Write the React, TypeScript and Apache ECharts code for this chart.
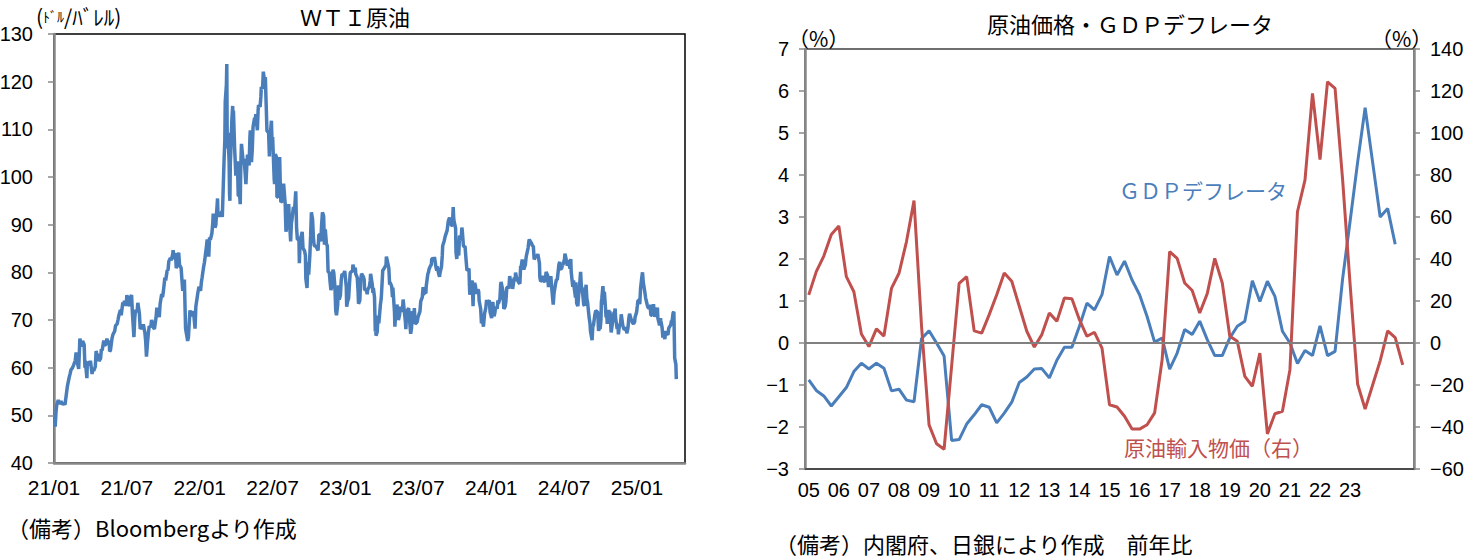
import React, { useEffect, useRef } from "react";
import * as echarts from "echarts";

// ---------- WTI crude (US$/barrel), [MM-DD, close] per year ----------
const wti2021: [string, number][] = [
  ["01-04", 47.6], ["01-06", 50.6], ["01-08", 52.2], ["01-12", 53.2], ["01-15", 52.4], ["01-19", 52.98], ["01-22", 52.3], ["01-26", 52.6], ["01-29", 52.2],
  ["02-02", 54.8], ["02-04", 56.2], ["02-08", 57.97], ["02-10", 58.7], ["02-12", 59.5], ["02-16", 60.05], ["02-18", 60.5], ["02-22", 61.5], ["02-24", 63.2], ["02-26", 61.5],
  ["03-02", 59.75], ["03-04", 63.8], ["03-05", 66.1], ["03-08", 65.05], ["03-10", 64.4], ["03-12", 65.6], ["03-16", 64.8], ["03-18", 60.0], ["03-19", 61.4], ["03-23", 57.8], ["03-24", 61.2], ["03-26", 61.0], ["03-30", 60.55],
  ["04-01", 61.45], ["04-05", 58.65], ["04-07", 59.8], ["04-09", 59.3], ["04-13", 60.2], ["04-15", 63.5], ["04-16", 63.1], ["04-20", 62.4], ["04-22", 61.4], ["04-26", 61.9], ["04-28", 63.9], ["04-30", 63.6],
  ["05-04", 65.7], ["05-06", 64.7], ["05-10", 64.9], ["05-12", 66.1], ["05-14", 65.4], ["05-18", 65.5], ["05-19", 63.4], ["05-21", 63.6], ["05-25", 66.1], ["05-27", 66.85],
  ["06-01", 67.7], ["06-03", 68.8], ["06-07", 69.2], ["06-09", 70.0], ["06-11", 70.9], ["06-15", 72.1], ["06-17", 71.0], ["06-21", 73.7], ["06-23", 73.1], ["06-25", 74.05], ["06-29", 72.98],
  ["07-01", 75.2], ["07-06", 73.4], ["07-08", 72.9], ["07-09", 74.6], ["07-13", 75.25], ["07-15", 71.65], ["07-19", 66.4], ["07-21", 70.3], ["07-23", 72.1], ["07-27", 71.65], ["07-29", 73.6],
  ["08-02", 71.3], ["08-04", 68.15], ["08-06", 68.3], ["08-10", 68.3], ["08-12", 69.1], ["08-16", 67.3], ["08-18", 65.5], ["08-20", 62.3], ["08-23", 65.6], ["08-25", 67.4], ["08-27", 68.7], ["08-31", 68.5],
  ["09-02", 69.99], ["09-07", 68.35], ["09-09", 68.1], ["09-13", 70.45], ["09-15", 72.6], ["09-17", 71.97], ["09-21", 70.6], ["09-23", 73.3], ["09-27", 75.45], ["09-29", 74.8],
  ["10-01", 75.9], ["10-05", 78.9], ["10-07", 78.3], ["10-11", 80.5], ["10-13", 80.4], ["10-15", 82.3], ["10-19", 83.0], ["10-21", 82.5], ["10-25", 83.8], ["10-26", 84.65], ["10-28", 82.8],
  ["11-01", 84.05], ["11-03", 80.9], ["11-05", 81.3], ["11-09", 84.15], ["11-11", 81.6], ["11-15", 80.9], ["11-17", 78.4], ["11-19", 76.1], ["11-23", 78.5], ["11-26", 68.15], ["11-30", 66.2],
  ["12-01", 65.6], ["12-03", 66.3], ["12-07", 72.05], ["12-09", 70.9], ["12-13", 71.3], ["12-15", 71.9], ["12-17", 70.9], ["12-20", 68.2], ["12-22", 72.8], ["12-27", 75.6], ["12-30", 76.99],
];
const wti2022: [string, number][] = [
  ["01-03", 76.1], ["01-05", 77.85], ["01-07", 78.9], ["01-11", 81.2], ["01-13", 82.1], ["01-18", 85.4], ["01-20", 86.9], ["01-24", 83.3], ["01-26", 87.35], ["01-28", 86.8],
  ["02-01", 88.2], ["02-03", 90.3], ["02-04", 92.3], ["02-08", 89.4], ["02-10", 89.9], ["02-14", 95.5], ["02-15", 92.1], ["02-17", 91.8], ["02-22", 92.35], ["02-24", 92.8], ["02-25", 91.6],
  ["03-01", 103.4], ["03-03", 107.7], ["03-04", 115.7], ["03-07", 119.4], ["03-08", 123.7], ["03-09", 108.7], ["03-10", 106.0], ["03-11", 109.3], ["03-14", 103.0], ["03-15", 96.4], ["03-16", 95.0], ["03-17", 102.98], ["03-18", 104.7], ["03-21", 112.1], ["03-23", 114.9], ["03-24", 112.3], ["03-25", 113.9], ["03-28", 105.96], ["03-29", 104.2], ["03-31", 100.3],
  ["04-04", 103.3], ["04-06", 96.2], ["04-07", 96.0], ["04-08", 98.3], ["04-11", 94.3], ["04-12", 100.6], ["04-13", 104.25], ["04-14", 106.95], ["04-19", 102.6], ["04-21", 103.8], ["04-22", 102.1], ["04-25", 98.5], ["04-27", 102.0], ["04-29", 104.7],
  ["05-03", 102.4], ["05-05", 108.3], ["05-06", 109.8], ["05-09", 103.1], ["05-11", 105.7], ["05-13", 110.5], ["05-17", 112.4], ["05-19", 112.2], ["05-20", 113.2], ["05-24", 109.8], ["05-26", 114.1], ["05-27", 115.1],
  ["05-31", 114.7], ["06-02", 116.9], ["06-03", 118.9], ["06-06", 118.5], ["06-08", 122.1], ["06-10", 120.7], ["06-13", 120.9], ["06-15", 115.3], ["06-17", 109.6], ["06-21", 109.5], ["06-23", 104.3], ["06-24", 107.6], ["06-28", 111.8], ["06-30", 105.8],
  ["07-01", 108.4], ["07-05", 99.5], ["07-06", 98.5], ["07-08", 104.8], ["07-11", 104.1], ["07-12", 95.8], ["07-14", 95.8], ["07-15", 97.6], ["07-19", 104.2], ["07-21", 96.35], ["07-22", 94.7], ["07-26", 94.98], ["07-28", 96.4], ["07-29", 98.6],
  ["08-02", 94.4], ["08-04", 88.5], ["08-05", 89.0], ["08-09", 90.5], ["08-11", 94.3], ["08-12", 92.1], ["08-16", 86.5], ["08-18", 90.5], ["08-19", 90.8], ["08-23", 93.7], ["08-25", 92.5], ["08-26", 93.1], ["08-29", 97.0], ["08-31", 89.55],
  ["09-02", 86.9], ["09-06", 86.9], ["09-07", 81.9], ["09-09", 86.8], ["09-12", 87.8], ["09-14", 88.5], ["09-16", 85.1], ["09-20", 84.45], ["09-22", 83.5], ["09-23", 78.7], ["09-26", 76.7], ["09-28", 82.15], ["09-30", 79.5],
  ["10-03", 83.6], ["10-05", 87.8], ["10-07", 92.6], ["10-10", 91.1], ["10-12", 87.3], ["10-14", 85.6], ["10-17", 85.5], ["10-19", 85.55], ["10-21", 85.05], ["10-24", 84.6], ["10-26", 87.9], ["10-28", 87.9],
  ["10-31", 86.5], ["11-02", 90.0], ["11-04", 92.6], ["11-07", 91.8], ["11-09", 85.8], ["11-11", 89.0], ["11-14", 85.9], ["11-16", 85.6], ["11-18", 80.1], ["11-21", 80.0], ["11-23", 77.9], ["11-25", 76.3], ["11-28", 77.2], ["11-30", 80.55],
  ["12-02", 79.98], ["12-05", 76.9], ["12-07", 72.0], ["12-09", 71.0], ["12-12", 73.2], ["12-14", 77.3], ["12-16", 74.3], ["12-19", 75.2], ["12-21", 78.3], ["12-23", 79.6], ["12-27", 79.5], ["12-30", 80.3],
];
const wti2023: [string, number][] = [
  ["01-03", 76.9], ["01-04", 72.8], ["01-06", 73.8], ["01-09", 74.6], ["01-11", 77.4], ["01-13", 79.9], ["01-17", 80.2], ["01-19", 80.3], ["01-20", 81.6], ["01-24", 80.1], ["01-26", 81.0], ["01-27", 79.7],
  ["01-31", 78.9], ["02-02", 75.9], ["02-03", 73.4], ["02-06", 74.1], ["02-08", 78.5], ["02-10", 79.7], ["02-14", 79.1], ["02-16", 78.5], ["02-17", 76.3], ["02-21", 76.4], ["02-23", 75.4], ["02-24", 76.3], ["02-28", 77.05],
  ["03-02", 78.2], ["03-03", 79.7], ["03-07", 77.6], ["03-09", 75.7], ["03-10", 76.7], ["03-13", 74.8], ["03-15", 67.6], ["03-16", 68.35], ["03-17", 66.7], ["03-20", 67.6], ["03-22", 70.9], ["03-24", 69.3], ["03-28", 73.2], ["03-30", 74.4], ["03-31", 75.7],
  ["04-03", 80.4], ["04-05", 80.6], ["04-06", 80.7], ["04-11", 81.5], ["04-12", 83.3], ["04-14", 82.5], ["04-18", 80.9], ["04-20", 77.4], ["04-21", 77.9], ["04-25", 77.1], ["04-27", 74.8], ["04-28", 76.8],
  ["05-02", 71.7], ["05-03", 68.6], ["05-05", 71.3], ["05-08", 73.2], ["05-10", 72.6], ["05-12", 70.0], ["05-15", 71.1], ["05-17", 72.8], ["05-19", 71.7], ["05-23", 72.9], ["05-24", 74.3], ["05-26", 72.7], ["05-30", 69.5], ["05-31", 68.1],
  ["06-02", 71.7], ["06-05", 72.2], ["06-07", 72.5], ["06-09", 70.2], ["06-12", 67.1], ["06-14", 68.3], ["06-16", 71.8], ["06-20", 71.2], ["06-21", 72.5], ["06-23", 69.2], ["06-26", 69.4], ["06-28", 69.6], ["06-30", 70.6],
  ["07-05", 71.8], ["07-07", 73.9], ["07-11", 74.8], ["07-13", 76.9], ["07-14", 75.4], ["07-18", 75.75], ["07-20", 75.6], ["07-21", 77.1], ["07-25", 79.6], ["07-27", 80.1], ["07-28", 80.6],
  ["08-01", 81.4], ["08-03", 81.55], ["08-04", 82.8], ["08-08", 82.9], ["08-10", 82.8], ["08-11", 83.2], ["08-15", 80.99], ["08-17", 80.4], ["08-18", 81.25], ["08-22", 79.6], ["08-24", 79.05], ["08-25", 79.8], ["08-29", 81.2], ["08-31", 83.6],
  ["09-01", 85.55], ["09-05", 86.7], ["09-07", 87.5], ["09-08", 87.5], ["09-12", 88.8], ["09-14", 90.2], ["09-15", 90.8], ["09-18", 91.5], ["09-20", 90.3], ["09-22", 90.0], ["09-25", 89.7], ["09-27", 93.7], ["09-28", 91.7], ["09-29", 90.8],
  ["10-03", 89.2], ["10-04", 84.2], ["10-06", 82.8], ["10-09", 86.4], ["10-11", 83.5], ["10-13", 87.7], ["10-17", 86.7], ["10-18", 88.3], ["10-19", 89.4], ["10-20", 88.75], ["10-23", 85.5], ["10-25", 85.4], ["10-27", 85.5],
  ["10-30", 82.3], ["11-01", 80.4], ["11-03", 80.5], ["11-06", 80.8], ["11-07", 77.4], ["11-08", 75.3], ["11-10", 77.2], ["11-14", 78.3], ["11-16", 72.9], ["11-17", 75.9], ["11-20", 77.8], ["11-22", 77.1], ["11-24", 75.5], ["11-28", 76.4], ["11-30", 75.96],
  ["12-01", 74.1], ["12-05", 72.3], ["12-07", 69.3], ["12-08", 71.2], ["12-12", 68.6], ["12-13", 69.5], ["12-15", 71.4], ["12-18", 72.5], ["12-20", 74.2], ["12-22", 73.6], ["12-27", 74.1], ["12-29", 71.65],
];
const wti2024: [string, number][] = [
  ["01-02", 70.4], ["01-04", 72.2], ["01-05", 73.8], ["01-08", 70.8], ["01-10", 71.4], ["01-12", 72.7], ["01-16", 72.4], ["01-18", 74.1], ["01-19", 73.4], ["01-23", 74.4], ["01-25", 77.4], ["01-26", 78.0], ["01-29", 76.8], ["01-31", 75.85],
  ["02-02", 72.3], ["02-05", 72.8], ["02-07", 73.9], ["02-09", 76.8], ["02-12", 76.9], ["02-14", 76.6], ["02-16", 79.2], ["02-20", 77.0], ["02-22", 78.6], ["02-23", 76.5], ["02-27", 78.9], ["02-29", 78.3],
  ["03-01", 79.97], ["03-05", 78.15], ["03-07", 78.9], ["03-08", 78.0], ["03-12", 77.6], ["03-14", 81.3], ["03-15", 81.0], ["03-18", 82.7], ["03-20", 81.7], ["03-22", 80.6], ["03-26", 81.6], ["03-28", 83.2],
  ["04-02", 85.15], ["04-04", 86.6], ["04-05", 86.9], ["04-08", 86.4], ["04-10", 86.2], ["04-12", 85.7], ["04-15", 85.4], ["04-17", 82.7], ["04-19", 83.1], ["04-23", 83.4], ["04-25", 83.6], ["04-26", 83.85], ["04-30", 81.9],
  ["05-01", 79.0], ["05-03", 78.1], ["05-07", 78.4], ["05-09", 79.3], ["05-10", 78.3], ["05-14", 78.0], ["05-16", 79.2], ["05-17", 80.1], ["05-21", 79.3], ["05-23", 76.9], ["05-24", 77.7], ["05-29", 79.2], ["05-31", 76.99],
  ["06-03", 74.2], ["06-04", 73.25], ["06-06", 75.6], ["06-07", 75.5], ["06-10", 77.7], ["06-12", 78.5], ["06-14", 78.45], ["06-18", 81.6], ["06-20", 82.2], ["06-21", 80.7], ["06-25", 80.8], ["06-27", 81.7], ["06-28", 81.5],
  ["07-02", 82.8], ["07-03", 83.9], ["07-05", 83.2], ["07-09", 81.4], ["07-11", 82.6], ["07-12", 82.2], ["07-16", 80.8], ["07-18", 82.8], ["07-19", 80.1], ["07-23", 76.96], ["07-25", 78.3], ["07-26", 77.2], ["07-30", 74.7], ["07-31", 77.9],
  ["08-02", 73.5], ["08-05", 72.9], ["08-07", 75.2], ["08-09", 76.8], ["08-12", 80.1], ["08-14", 76.98], ["08-16", 76.65], ["08-20", 73.2], ["08-22", 73.0], ["08-23", 74.8], ["08-26", 77.4], ["08-28", 74.5], ["08-30", 73.55],
  ["09-03", 70.3], ["09-05", 69.15], ["09-06", 67.7], ["09-10", 65.75], ["09-12", 68.97], ["09-13", 68.65], ["09-17", 71.2], ["09-19", 71.95], ["09-20", 71.9], ["09-24", 71.6], ["09-26", 67.7], ["09-27", 68.2], ["09-30", 68.2],
  ["10-02", 70.1], ["10-03", 73.7], ["10-04", 74.4], ["10-07", 77.1], ["10-09", 73.2], ["10-10", 75.85], ["10-11", 75.6], ["10-15", 70.6], ["10-17", 70.7], ["10-18", 69.2], ["10-22", 72.1], ["10-24", 70.2], ["10-25", 71.8], ["10-28", 67.4], ["10-30", 68.6], ["10-31", 69.3],
  ["11-04", 71.5], ["11-06", 71.7], ["11-07", 72.4], ["11-08", 70.4], ["11-12", 68.1], ["11-14", 68.7], ["11-15", 67.0], ["11-18", 69.2], ["11-20", 68.9], ["11-22", 71.2], ["11-26", 68.8], ["11-27", 68.7], ["11-29", 68.0],
  ["12-02", 68.1], ["12-04", 68.5], ["12-06", 67.2], ["12-09", 68.4], ["12-11", 70.3], ["12-13", 71.3], ["12-17", 70.1], ["12-19", 69.9], ["12-20", 69.5], ["12-23", 69.2], ["12-26", 69.6], ["12-27", 70.6], ["12-31", 71.7],
];
const wti2025: [string, number][] = [
  ["01-02", 73.1], ["01-03", 73.96], ["01-07", 74.25], ["01-08", 73.3], ["01-10", 76.6], ["01-13", 78.8], ["01-15", 80.0], ["01-17", 77.9], ["01-21", 75.8], ["01-23", 74.6], ["01-24", 74.7], ["01-27", 73.2], ["01-29", 72.6], ["01-31", 72.5],
  ["02-03", 73.2], ["02-05", 71.0], ["02-07", 71.0], ["02-11", 73.3], ["02-13", 71.3], ["02-14", 70.7], ["02-18", 71.85], ["02-20", 72.6], ["02-21", 70.4], ["02-25", 68.9], ["02-27", 70.35], ["02-28", 69.8],
  ["03-03", 68.4], ["03-04", 68.3], ["03-05", 66.3], ["03-07", 67.0], ["03-10", 66.0], ["03-12", 67.7], ["03-14", 67.2], ["03-18", 66.9], ["03-20", 68.3], ["03-21", 68.3], ["03-25", 69.0], ["03-27", 69.9], ["03-28", 69.4], ["03-31", 71.5],
  ["04-02", 71.7], ["04-03", 67.0], ["04-04", 62.0], ["04-07", 60.7], ["04-08", 57.6],
];
const wtiYears: [number, [string, number][]][] = [
  [2021, wti2021], [2022, wti2022], [2023, wti2023], [2024, wti2024], [2025, wti2025],
];
const wtiTickMonths = [0, 6, 12, 18, 24, 30, 36, 42, 48];
const wtiTickLabels = ["21/01", "21/07", "22/01", "22/07", "23/01", "23/07", "24/01", "24/07", "25/01"];

// ---------- Quarterly YoY (%), 2005Q1 .. ----------
const quarterYears = [2005, 2006, 2007, 2008, 2009, 2010, 2011, 2012, 2013, 2014, 2015, 2016, 2017, 2018, 2019, 2020, 2021, 2022, 2023, 2024, 2025];
const quarterNames = ["Q1", "Q2", "Q3", "Q4"];
const quarterCount = 81; // 2005Q1 .. 2025Q1
const yearTickLabels = ["05", "06", "07", "08", "09", "10", "11", "12", "13", "14", "15", "16", "17", "18", "19", "20", "21", "22", "23"];

const gdpDeflator = [
  -0.88, -1.13, -1.26, -1.5, -1.28, -1.06, -0.68, -0.48, -0.62, -0.48, -0.6, -1.14, -1.1, -1.36, -1.4, 0.1,
  0.29, 0.0, -0.31, -2.32, -2.3, -1.93, -1.71, -1.47, -1.53, -1.9, -1.67, -1.41, -0.94, -0.81, -0.62, -0.61,
  -0.83, -0.41, -0.1, -0.1, 0.4, 0.95, 0.79, 1.15, 2.06, 1.62, 1.95, 1.5, 1.15, 0.63, 0.02, 0.12,
  -0.62, -0.24, 0.32, 0.2, 0.52, 0.08, -0.3, -0.3, 0.12, 0.4, 0.52, 1.48, 0.99, 1.47, 1.11, 0.28,
  0.0, -0.49, -0.18, -0.3, 0.41, -0.3, -0.2, 1.52, 2.9, 4.3, 5.6, 4.3, 3.0, 3.2, 2.35,
];
const crudeImportPrice = [
  22.9, 34.0, 41.4, 51.7, 55.7, 31.6, 24.4, 4.3, -1.7, 6.7, 3.3, 26.0, 33.2, 48.3, 67.8, 8.0,
  -39.0, -48.0, -50.6, -11.0, 28.4, 31.6, 5.8, 4.7, 13.5, 23.0, 33.3, 29.4, 17.5, 5.6, -1.9, 4.0,
  14.3, 10.3, 21.4, 21.1, 11.1, 3.2, 5.1, -2.4, -29.4, -30.5, -34.9, -41.0, -41.0, -38.9, -33.3, -8.0,
  43.5, 40.3, 28.6, 25.0, 14.3, 23.5, 40.3, 28.6, 3.2, 0.8, -15.9, -20.6, -4.8, -43.3, -33.7, -32.5,
  -12.7, 62.5, 77.6, 118.9, 87.3, 124.4, 121.3, 78.0, 28.0, -19.5, -31.5, -20.0, -8.5, 5.8, 2.6, -10.4,
];

const BLUE = "#4a7ebb";
const RED = "#c0504d";
const JP = '"Noto Sans CJK JP", "Noto Sans", sans-serif';
const NUM = '"Liberation Sans", Arial, sans-serif';

function monthsSince2021(year: number, md: string): number {
  const [m, d] = md.split("-").map(Number);
  const dim = new Date(year, m, 0).getDate();
  return (year - 2021) * 12 + (m - 1) + (d - 1) / dim;
}

const minus = (v: number | string) => String(v).replace("-", "\u2212");

export default function App() {
  const ref = useRef<HTMLDivElement>(null);

  useEffect(() => {
    if (!ref.current) return;
    const chart = echarts.init(ref.current, undefined, { renderer: "svg" });

    const wtiPoints: [number, number][] = [];
    wtiYears.forEach(([y, rows]) => rows.forEach(([md, p]) => wtiPoints.push([monthsSince2021(y, md), p])));

    const quarterCategories = quarterYears
      .flatMap((y) => quarterNames.map((q) => `${y}${q}`))
      .slice(0, quarterCount);

    const option: any = {
      animation: false,
      backgroundColor: "#ffffff",
      textStyle: { fontFamily: JP },
      grid: [
        { left: 54, top: 34, width: 631, height: 429, containLabel: false, outerBoundsMode: "none", show: true, borderColor: "#000000", borderWidth: 1.5, backgroundColor: "transparent" },
        { left: 805, top: 49, width: 609, height: 420, containLabel: false, outerBoundsMode: "none", show: true, borderColor: "#404040", borderWidth: 1.5, backgroundColor: "transparent" },
      ],
      xAxis: [
        {
          gridIndex: 0, type: "value", min: 0, max: 51.95, interval: 6,
          axisLine: { show: true, onZero: false, lineStyle: { color: "#888888", width: 2.5 } },
          axisTick: { show: false }, splitLine: { show: false },
          axisLabel: {
            color: "#000", fontSize: 21, fontFamily: NUM, margin: 14, showMaxLabel: false,
            formatter: (v: number) => {
              const i = wtiTickMonths.indexOf(Math.round(v * 1000) / 1000);
              return i >= 0 ? wtiTickLabels[i] : "";
            },
          },
        },
        {
          gridIndex: 1, type: "category", data: quarterCategories, boundaryGap: true,
          axisLine: { show: true, onZero: false, lineStyle: { color: "#404040", width: 1.5 } },
          axisTick: { show: false }, splitLine: { show: false },
          axisLabel: {
            color: "#000", fontSize: 20, fontFamily: NUM, margin: 11, interval: 0,
            formatter: (v: string) => {
              if (!v.endsWith("Q1")) return "";
              const s = v.slice(2, 4);
              return yearTickLabels.includes(s) ? s : "";
            },
          },
        },
      ],
      yAxis: [
        {
          gridIndex: 0, type: "value", min: 40, max: 130, interval: 10,
          axisLine: { show: true, lineStyle: { color: "#888888", width: 2.5 } },
          axisTick: { show: true, length: 6, lineStyle: { color: "#888888", width: 1.5 } },
          splitLine: { show: false },
          axisLabel: { color: "#000", fontSize: 20, fontFamily: NUM, margin: 21 },
        },
        {
          gridIndex: 1, type: "value", position: "left", min: -3, max: 7, interval: 1,
          axisLine: { show: true, onZero: false, lineStyle: { color: "#888888", width: 2.5 } },
          axisTick: { show: true, length: 6, lineStyle: { color: "#888888", width: 1.5 } },
          splitLine: { show: false },
          axisLabel: { color: "#000", fontSize: 20, fontFamily: NUM, margin: 16, formatter: minus },
        },
        {
          gridIndex: 1, type: "value", position: "right", min: -60, max: 140, interval: 20,
          axisLine: { show: true, onZero: false, lineStyle: { color: "#888888", width: 2.5 } },
          axisTick: { show: true, length: 6, lineStyle: { color: "#888888", width: 1.5 } },
          splitLine: { show: false },
          axisLabel: { color: "#000", fontSize: 20, fontFamily: NUM, margin: 16, formatter: minus },
        },
      ],
      series: [
        {
          name: "WTI", type: "line", xAxisIndex: 0, yAxisIndex: 0, data: wtiPoints,
          showSymbol: false, symbol: "none", lineStyle: { color: BLUE, width: 3.5 }, itemStyle: { color: BLUE },
        },
        {
          name: "GDPデフレータ", type: "line", xAxisIndex: 1, yAxisIndex: 1, data: gdpDeflator,
          showSymbol: false, symbol: "none", lineStyle: { color: BLUE, width: 3 }, itemStyle: { color: BLUE },
          markLine: {
            silent: true, symbol: "none", label: { show: false },
            lineStyle: { color: "#808080", width: 2, type: "solid" },
            data: [{ yAxis: 0 }],
          },
        },
        {
          name: "原油輸入物価", type: "line", xAxisIndex: 1, yAxisIndex: 2, data: crudeImportPrice,
          showSymbol: false, symbol: "none", lineStyle: { color: RED, width: 3 }, itemStyle: { color: RED },
        },
      ],
      graphic: [
        { type: "text", x: 355, y: 16, style: { text: "ＷＴＩ原油", fill: "#000", font: `22px ${JP}`, textAlign: "center", textVerticalAlign: "middle" } },
        {
          type: "text", x: 36, y: 16,
          style: {
            text: "{a|(}{b|ﾄﾞﾙ}{a|/ﾊﾞﾚﾙ)}", textVerticalAlign: "middle",
            rich: {
              a: { fontSize: 21, lineHeight: 22, fontFamily: JP, fill: "#000" },
              b: { fontSize: 14, lineHeight: 22, fontFamily: JP, fill: "#000" },
            },
          },
        },
        { type: "text", x: 7, y: 527, style: { text: "（備考）Bloombergより作成", fill: "#000", font: `22px ${JP}`, textVerticalAlign: "middle" } },
        { type: "text", x: 1130, y: 23, style: { text: "原油価格・ＧＤＰデフレータ", fill: "#000", font: `22px ${JP}`, textAlign: "center", textVerticalAlign: "middle" } },
        { type: "text", x: 788, y: 38, style: { text: "（%）", fill: "#000", font: `21px ${JP}`, textVerticalAlign: "middle" } },
        { type: "text", x: 1371, y: 38, style: { text: "（%）", fill: "#000", font: `21px ${JP}`, textVerticalAlign: "middle" } },
        { type: "text", x: 1119, y: 190, style: { text: "ＧＤＰデフレータ", fill: BLUE, font: `21px ${JP}`, textVerticalAlign: "middle" } },
        { type: "text", x: 1124, y: 447, style: { text: "原油輸入物価（右）", fill: RED, font: `21px ${JP}`, textVerticalAlign: "middle" } },
        { type: "text", x: 775, y: 543, style: { text: "（備考）内閣府、日銀により作成　前年比", fill: "#000", font: `22px ${JP}`, textVerticalAlign: "middle" } },
      ],
    };

    chart.setOption(option);
    return () => chart.dispose();
  }, []);

  return (
    <div
      ref={ref}
      style={{ position: "fixed", left: 0, top: 0, width: 1470, height: 559, background: "#fff" }}
    />
  );
}
